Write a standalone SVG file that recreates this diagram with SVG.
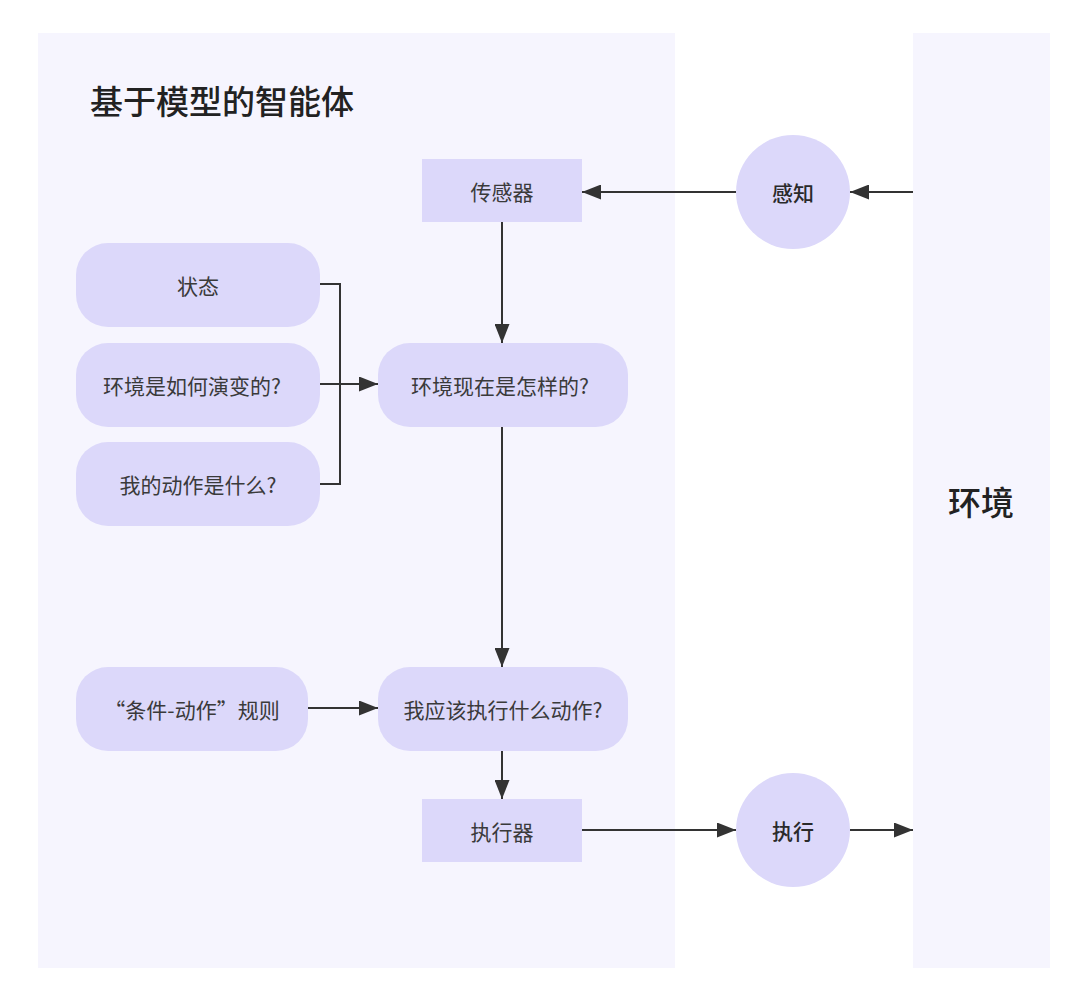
<svg xmlns="http://www.w3.org/2000/svg" width="1080" height="1006" viewBox="0 0 1080 1006">
<style>
.panel{fill:#f6f5fe}
.node{fill:#dcd8fa}
.t{font-family:"Noto Sans CJK SC","Noto Sans",sans-serif;font-size:21px;fill:#3a3a3a;text-anchor:middle;dominant-baseline:central}
.tb{font-weight:500;fill:#2a2a2a}
.big{font-family:"Noto Sans CJK SC","Noto Sans",sans-serif;font-size:33px;font-weight:500;fill:#222}
.edge{stroke:#333;stroke-width:2;fill:none}
</style>
<defs>
<marker id="ah" markerUnits="userSpaceOnUse" markerWidth="19" markerHeight="15" refX="19" refY="7.5" orient="auto">
<path d="M0,0 L19,7.5 L0,15 z" fill="#333"/>
</marker>
</defs>
<rect width="1080" height="1006" fill="#ffffff"/>
<g id="agent-panel">
<rect class="panel" x="38" y="33" width="637" height="935"/>
<text class="big" x="90" y="114">基于模型的智能体</text>
</g>
<g id="env-panel">
<rect class="panel" x="913" y="33" width="137" height="935"/>
<text class="big" x="981" y="501" text-anchor="middle" dominant-baseline="central">环境</text>
</g>
<g id="connectors">
<line class="edge" x1="736" y1="192" x2="582" y2="192" marker-end="url(#ah)"/>
<line class="edge" x1="913" y1="192" x2="850" y2="192" marker-end="url(#ah)"/>
<line class="edge" x1="502" y1="222" x2="502" y2="343" marker-end="url(#ah)"/>
<polyline class="edge" points="320,284 340,284 340,484 320,484"/>
<line class="edge" x1="320" y1="384" x2="378" y2="384" marker-end="url(#ah)"/>
<line class="edge" x1="502" y1="426" x2="502" y2="667" marker-end="url(#ah)"/>
<line class="edge" x1="308" y1="708" x2="378" y2="708" marker-end="url(#ah)"/>
<line class="edge" x1="502" y1="750" x2="502" y2="799" marker-end="url(#ah)"/>
<line class="edge" x1="582" y1="830" x2="736" y2="830" marker-end="url(#ah)"/>
<line class="edge" x1="850" y1="830" x2="913" y2="830" marker-end="url(#ah)"/>
</g>
<g id="sensor">
<rect class="node" x="422" y="159" width="160" height="63"/>
<text class="t" x="502" y="191">传感器</text>
</g>
<g id="perceive">
<circle class="node" cx="793" cy="192" r="57"/>
<text class="t tb" x="793" y="192">感知</text>
</g>
<g id="state">
<rect class="node" x="76" y="243" width="244" height="84" rx="32" ry="32"/>
<text class="t" x="198" y="285">状态</text>
</g>
<g id="evolve">
<rect class="node" x="76" y="343" width="244" height="84" rx="32" ry="32"/>
<text class="t" x="192" y="385">环境是如何演变的?</text>
</g>
<g id="myaction">
<rect class="node" x="76" y="442" width="244" height="84" rx="32" ry="32"/>
<text class="t" x="198" y="484">我的动作是什么?</text>
</g>
<g id="envnow">
<rect class="node" x="378" y="343" width="250" height="84" rx="32" ry="32"/>
<text class="t" x="500" y="385">环境现在是怎样的?</text>
</g>
<g id="rules">
<rect class="node" x="76" y="667" width="232" height="84" rx="32" ry="32"/>
<text class="t" x="192" y="709">“条件-动作”规则</text>
</g>
<g id="whatdo">
<rect class="node" x="378" y="667" width="250" height="84" rx="32" ry="32"/>
<text class="t" x="503" y="709">我应该执行什么动作?</text>
</g>
<g id="actuator">
<rect class="node" x="422" y="799" width="160" height="63"/>
<text class="t" x="502" y="831">执行器</text>
</g>
<g id="act">
<circle class="node" cx="793" cy="830" r="57"/>
<text class="t tb" x="793" y="830">执行</text>
</g>
</svg>
